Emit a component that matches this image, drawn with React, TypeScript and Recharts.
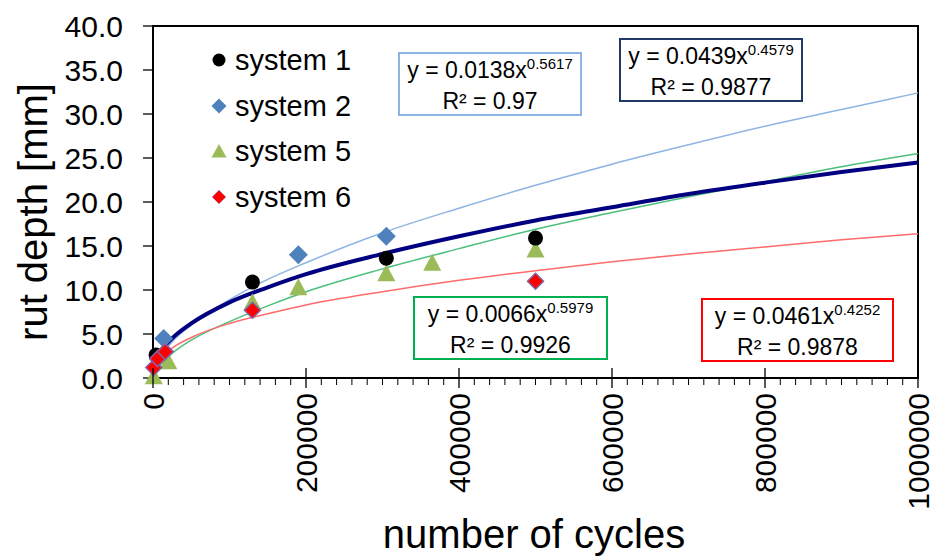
import React from 'react';
import { ComposedChart, Scatter, Line, XAxis, YAxis, ReferenceArea, Legend, Label } from 'recharts';

const FONT = '"Liberation Sans", Arial, Helvetica, sans-serif';

// measured points (number of cycles / rut depth in mm)
const sys1Cycles = [4000, 130000, 305000, 500000];
const sys1Depth = [2.6, 10.9, 13.6, 15.9];

const sys2Cycles = [14000, 190000, 305000];
const sys2Depth = [4.5, 14.0, 16.1];

const sys5Cycles = [1000, 20000, 130000, 190000, 305000, 365000, 500000];
const sys5Depth = [0.2, 1.9, 8.6, 10.3, 11.9, 13.1, 14.6];

const sys6Cycles = [1000, 6000, 16000, 130000, 500000];
const sys6Depth = [1.2, 2.2, 3.0, 7.7, 11.0];

// trend curves
const trendCycles = [2000, 10000, 25000, 50000, 100000, 150000, 200000, 300000, 400000, 500000, 600000, 700000, 800000, 900000, 1000000];
const trend1 = [1.4, 3.0, 4.5, 6.2, 8.6, 10.3, 11.8, 14.1, 16.1, 17.9, 19.4, 20.9, 22.2, 23.4, 24.5];
const trend2 = [1.0, 2.4, 4.1, 6.0, 8.9, 11.2, 13.1, 16.5, 19.3, 21.9, 24.3, 26.5, 28.6, 30.5, 32.4];
const trend5 = [0.6, 1.6, 2.8, 4.3, 6.4, 8.2, 9.8, 12.4, 14.7, 16.9, 18.8, 20.6, 22.3, 24.0, 25.5];
const trend6 = [1.2, 2.3, 3.4, 4.6, 6.2, 7.3, 8.3, 9.8, 11.1, 12.2, 13.2, 14.1, 14.9, 15.7, 16.4];

const xTicks = Array.from({ length: 51 }, (_, i) => i * 20000);
const yTicks = [0, 5, 10, 15, 20, 25, 30, 35, 40];

const toPts = (xs: number[], ys: number[]) => xs.map((x, i) => ({ x, y: ys[i] }));

const Circle = ({ cx, cy }: any) => <circle cx={cx} cy={cy} r={7.5} fill="#000" />;
const BlueDiamond = ({ cx, cy }: any) => (
  <polygon points={`${cx},${cy - 9.5} ${cx + 9.5},${cy} ${cx},${cy + 9.5} ${cx - 9.5},${cy}`} fill="#4f81bd" />
);
const Triangle = ({ cx, cy }: any) => (
  <polygon points={`${cx},${cy - 9} ${cx + 9},${cy + 8} ${cx - 9},${cy + 8}`} fill="#9bbb59" />
);
const RedDiamond = ({ cx, cy }: any) => (
  <polygon
    points={`${cx},${cy - 8} ${cx + 8},${cy} ${cx},${cy + 8} ${cx - 8},${cy}`}
    fill="#ff0000"
    stroke="#8064a2"
    strokeWidth={1.5}
  />
);

const series = [
  { name: 'system 1', shape: 'circle' },
  { name: 'system 2', shape: 'diamond' },
  { name: 'system 5', shape: 'triangle' },
  { name: 'system 6', shape: 'red' },
];

const LegendMarker = ({ shape }: { shape: string }) => {
  if (shape === 'circle') return <circle cx={9} cy={9} r={6.5} fill="#000" />;
  if (shape === 'diamond') return <polygon points="9,1.5 16.5,9 9,16.5 1.5,9" fill="#4f81bd" />;
  if (shape === 'triangle') return <polygon points="9,2 16.5,15.5 1.5,15.5" fill="#9bbb59" />;
  return <polygon points="9,2 16,9 9,16 2,9" fill="#ff0000" stroke="#c0a0d0" strokeWidth={1} />;
};

const renderLegend = () => (
  <div style={{ fontFamily: FONT }}>
    {series.map((s) => (
      <div key={s.name} style={{ display: 'flex', alignItems: 'center', height: 45.7 }}>
        <svg width={18} height={18} style={{ marginRight: 7 }}>
          <LegendMarker shape={s.shape} />
        </svg>
        <span style={{ fontSize: 29, color: '#000', lineHeight: '30px' }}>{s.name}</span>
      </div>
    ))}
  </div>
);

const XTick = (props: any) => {
  const { x, y, payload } = props;
  const v = payload.value;
  const major = v % 200000 === 0;
  return (
    <g>
      {major ? (
        <line x1={x} x2={x} y1={y - 10} y2={y + 10} stroke="#000" strokeWidth={1.3} />
      ) : (
        <line x1={x} x2={x} y1={y} y2={y + 7} stroke="#000" strokeWidth={1} />
      )}
      {major && (
        <text
          x={x}
          y={y + 15}
          transform={`rotate(-90 ${x} ${y + 15})`}
          textAnchor="end"
          dominantBaseline="central"
          fontSize={30}
          fontFamily={FONT}
          fill="#000"
        >
          {v}
        </text>
      )}
    </g>
  );
};

const boxes = [
  { left: 398, top: 52, width: 184, height: 64, color: '#8eb4e3', coef: '0.0138', exp: '0.5617', r2: '0.97' },
  { left: 619, top: 38, width: 184, height: 64, color: '#1f3864', coef: '0.0439', exp: '0.4579', r2: '0.9877' },
  { left: 413, top: 296, width: 195, height: 64, color: '#00b050', coef: '0.0066', exp: '0.5979', r2: '0.9926' },
  { left: 701, top: 298, width: 193, height: 64, color: '#ff0000', coef: '0.0461', exp: '0.4252', r2: '0.9878' },
];

export default function App() {
  return (
    <div style={{ position: 'absolute', left: 0, top: 0, width: 930, height: 556, background: '#fff' }}>
      <ComposedChart width={930} height={556} margin={{ top: 26, right: 12, left: 0, bottom: 0 }}>
        <XAxis
          type="number"
          dataKey="x"
          domain={[0, 1000000]}
          ticks={xTicks}
          interval={0}
          height={178}
          tickSize={0}
          tickMargin={0}
          tickLine={false}
          tick={<XTick />}
          axisLine={{ stroke: '#000', strokeWidth: 2 }}
        >
          <Label
            content={() => (
              <text x={534} y={548} textAnchor="middle" fontSize={40} fontFamily={FONT} fill="#000">
                number of cycles
              </text>
            )}
          />
        </XAxis>
        <YAxis
          type="number"
          domain={[0, 40]}
          ticks={yTicks}
          width={153}
          tickSize={10}
          tickMargin={20}
          tickFormatter={(v: number) => v.toFixed(1)}
          tick={{ fontSize: 30, fill: '#000', fontFamily: FONT }}
          tickLine={{ stroke: '#000', strokeWidth: 1.3 }}
          axisLine={{ stroke: '#000', strokeWidth: 2 }}
        >
          <Label
            content={() => (
              <text
                x={33}
                y={212}
                transform="rotate(-90 33 212)"
                textAnchor="middle"
                dominantBaseline="central"
                fontSize={40}
                fontFamily={FONT}
                fill="#000"
              >
                rut depth [mm]
              </text>
            )}
          />
        </YAxis>
        <ReferenceArea x1={0} x2={1000000} y1={0} y2={40} fill="none" stroke="#000" strokeWidth={2} />
        <Legend
          layout="vertical"
          verticalAlign="middle"
          align="center"
          content={renderLegend}
          wrapperStyle={{ position: 'absolute', left: 210, top: 37, width: 160 }}
        />
        <Scatter name="system 2" data={toPts(sys2Cycles, sys2Depth)} dataKey="y" shape={BlueDiamond} isAnimationActive={false} />
        <Scatter name="system 5" data={toPts(sys5Cycles, sys5Depth)} dataKey="y" shape={Triangle} isAnimationActive={false} />
        <Scatter name="system 1" data={toPts(sys1Cycles, sys1Depth)} dataKey="y" shape={Circle} isAnimationActive={false} />
        <Scatter name="system 6" data={toPts(sys6Cycles, sys6Depth)} dataKey="y" shape={RedDiamond} isAnimationActive={false} />
        <Line data={toPts(trendCycles, trend2)} dataKey="y" type="monotone" stroke="#8db4e2" strokeWidth={1.5} dot={false} activeDot={false} legendType="none" isAnimationActive={false} />
        <Line data={toPts(trendCycles, trend5)} dataKey="y" type="monotone" stroke="#4cbf7c" strokeWidth={1.5} dot={false} activeDot={false} legendType="none" isAnimationActive={false} />
        <Line data={toPts(trendCycles, trend6)} dataKey="y" type="monotone" stroke="#ff6b6b" strokeWidth={1.5} dot={false} activeDot={false} legendType="none" isAnimationActive={false} />
        <Line data={toPts(trendCycles, trend1)} dataKey="y" type="monotone" stroke="#000080" strokeWidth={4} dot={false} activeDot={false} legendType="none" isAnimationActive={false} />
      </ComposedChart>
      {boxes.map((b) => (
        <div
          key={b.coef}
          style={{
            position: 'absolute',
            left: b.left,
            top: b.top,
            width: b.width,
            height: b.height,
            boxSizing: 'border-box',
            border: `2px solid ${b.color}`,
            background: '#fff',
            fontFamily: FONT,
            fontSize: 23,
            lineHeight: '29px',
            textAlign: 'center',
            color: '#000',
            paddingTop: 2,
          }}
        >
          <div>
            y = {b.coef}x
            <span style={{ fontSize: 15, position: 'relative', top: -9 }}>{b.exp}</span>
          </div>
          <div>R² = {b.r2}</div>
        </div>
      ))}
    </div>
  );
}
